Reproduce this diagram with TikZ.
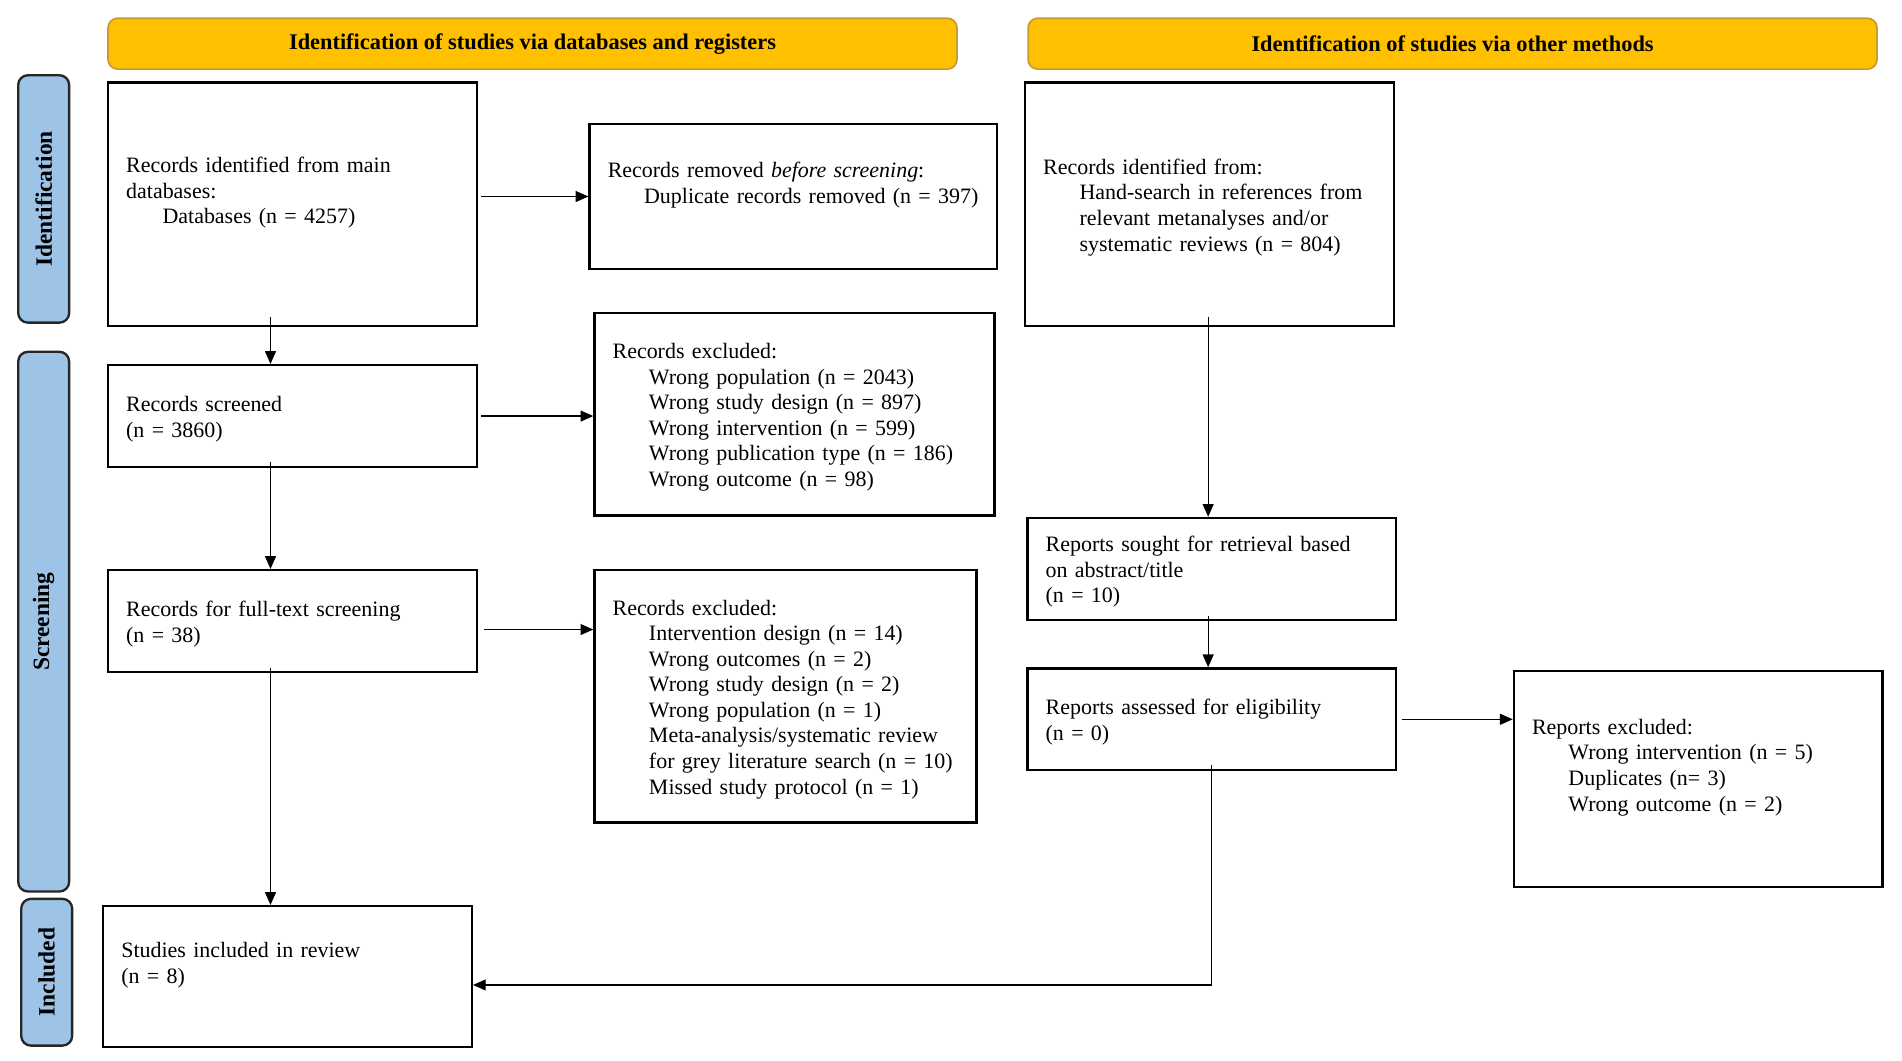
\documentclass[tikz,border=0pt]{standalone}
\usepackage{fontspec}
\setmainfont{Liberation Serif}
\usetikzlibrary{arrows.meta}
\definecolor{headgold}{HTML}{FFC000}
\definecolor{headedge}{HTML}{C99A2E}
\definecolor{phaseblue}{HTML}{9DC3E6}
\newcommand{\indline}[1]{\hspace*{0.6cm}\mbox{#1}}

\begin{document}
\begin{tikzpicture}[x=0.02cm, y=-0.02cm, >={Triangle[length=0.21cm,width=0.18cm]}]
      \tikzset{
  recbox/.style={
    draw,
    line width=1.1pt,
    align=left,
    inner xsep=0.3cm,
    inner ysep=0pt,
    text height=10pt,
    font=\fontsize{10.3}{12}\selectfont
  },
  header/.style={
    draw=headedge,
    fill=headgold,
    line width=0.8pt,
    rounded corners=0.16cm,
    minimum width=14cm,
    minimum height=0.84cm,
    font=\bfseries\fontsize{10.5}{12}\selectfont
  },
  phase/.style={
    draw=black!85,
    fill=phaseblue,
    line width=1.1pt,
    rounded corners=0.16cm,
    rotate=90,
    minimum height=0.84cm,
    font=\bfseries\fontsize{11}{12}\selectfont
  },
  flow/.style={->, line width=0.6pt}
}

\useasboundingbox (0,0) rectangle (1568,874);

% column headers
\node [header] (head-db) at (439,36) {Identification of studies via databases and registers};
\node [header] (head-other) at (1197.5,36) {Identification of studies via other methods};

% phase labels on the left
\foreach \m/\l/\x/\y/\len in {ident/Identification/36/164/4.08cm, screen/Screening/36/512.5/8.9cm, incl/Included/38.5/801.5/2.42cm}
  \node [phase, minimum width=\len] (phase-\m) at (\x,\y) {\l};

% databases and registers
\node [recbox, text width=5.48cm, minimum height=4.02cm] (ident) at (241,168.5)
  {Records identified from main\\databases:\\\indline{Databases (n = 4257)}\\\strut};
\node [recbox, text width=6.12cm, minimum height=2.40cm] (removed) at (654,162)
  {Records removed \textit{before screening}:\\\indline{Duplicate records removed (n = 397)}\\\strut};
\node [recbox, text width=5.48cm, minimum height=1.68cm] (screened) at (241,343)
  {Records screened\\(n = 3860)};
\node [recbox, text width=6.00cm, minimum height=3.34cm] (excl-rec) at (655,341.5)
  {Records excluded:\\\indline{Wrong population (n = 2043)}\\\indline{Wrong study design (n = 897)}\\\indline{Wrong intervention (n = 599)}\\\indline{Wrong publication type (n = 186)}\\\indline{Wrong outcome (n = 98)}};
\node [recbox, text width=5.48cm, minimum height=1.68cm] (fulltext) at (241,512)
  {Records for full-text screening\\(n = 38)};
\node [recbox, text width=5.70cm, minimum height=4.16cm] (excl-full) at (647.5,574)
  {Records excluded:\\\indline{Intervention design (n = 14)}\\\indline{Wrong outcomes (n = 2)}\\\indline{Wrong study design (n = 2)}\\\indline{Wrong population (n = 1)}\\\indline{Meta-analysis/systematic review}\\\indline{for grey literature search (n = 10)}\\\indline{Missed study protocol (n = 1)}};
\node [recbox, text width=5.48cm, minimum height=2.32cm] (included) at (237,805)
  {Studies included in review\\(n = 8)\\\strut};

% other methods
\node [recbox, text width=5.48cm, minimum height=4.02cm] (other) at (997,168.5)
  {Records identified from:\\\indline{Hand-search in references from}\\\indline{relevant metanalyses and/or}\\\indline{systematic reviews (n = 804)}};
\node [recbox, text width=5.48cm, minimum height=1.68cm] (sought) at (999,469)
  {Reports sought for retrieval based\\on abstract/title\\(n = 10)};
\node [recbox, text width=5.48cm, minimum height=1.68cm] (assessed) at (999,593)
  {Reports assessed for eligibility\\(n = 0)};
\node [recbox, text width=5.48cm, minimum height=3.56cm] (excl-rep) at (1400,642)
  {Reports excluded:\\\indline{Wrong intervention (n = 5)}\\\indline{Duplicates (n= 3)}\\\indline{Wrong outcome (n = 2)}\\\strut};

% connectors
\coordinate (lcol) at (223,0);
\coordinate (rcol) at (996,0);

\draw [flow, shorten <=-0.18cm] (ident.south -| lcol) -- (screened.north -| lcol);
\draw [flow, shorten <=-0.10cm] (screened.south -| lcol) -- (fulltext.north -| lcol);
\draw [flow, shorten <=-0.08cm] (fulltext.south -| lcol) -- (included.north -| lcol);

\draw [flow, shorten <=0.06cm] (ident.east |- removed.west) -- (removed.west);
\draw [flow, shorten <=0.06cm] (screened.east) -- (screened.east -| excl-rec.west);
\draw [flow, shorten <=0.1cm] ([yshift=-0.14cm]fulltext.east) -- ([yshift=-0.14cm]fulltext.east -| excl-full.west);

\draw [flow, shorten <=-0.18cm] (other.south -| rcol) -- (sought.north -| rcol);
\draw [flow, shorten <=-0.08cm] (sought.south -| rcol) -- (assessed.north -| rcol);
\draw [flow, shorten <=0.08cm] (assessed.east) -- (assessed.east -| excl-rep.west);
\draw [flow, shorten <=-0.10cm] (assessed.south) |- ([yshift=-0.14cm]included.east);
    \end{tikzpicture}
\end{document}
